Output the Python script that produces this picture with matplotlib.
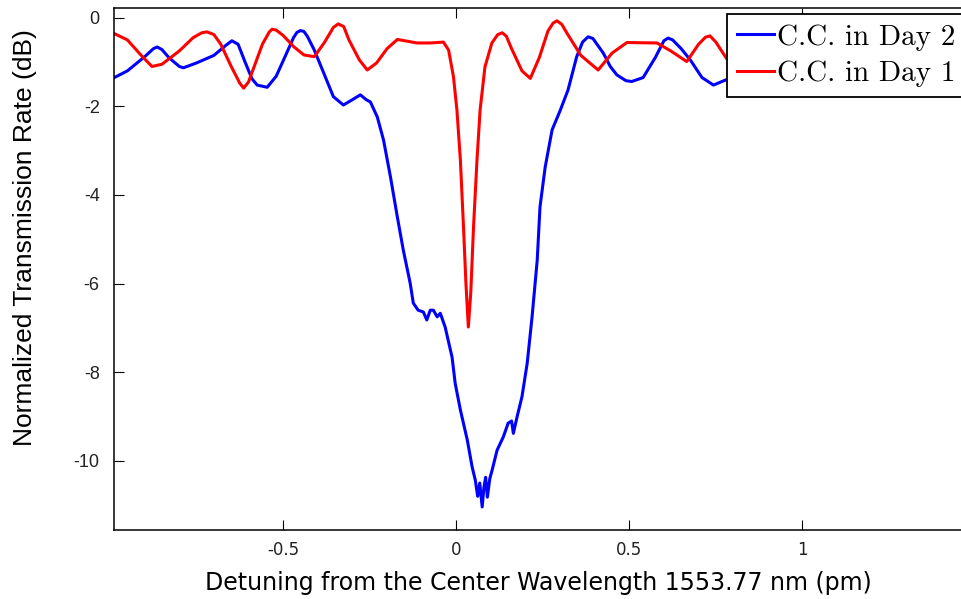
import matplotlib
matplotlib.use('Agg')
import matplotlib.pyplot as plt

plt.rcParams['axes.unicode_minus'] = False

# detuning (pm) and normalized transmission (dB), second day
day2_x = [-0.99, -0.95, -0.90, -0.875, -0.864, -0.85, -0.83, -0.80, -0.788, -0.75,
          -0.70, -0.665, -0.648, -0.63, -0.61, -0.59, -0.575, -0.546, -0.52, -0.49,
          -0.47, -0.46, -0.45, -0.44, -0.43, -0.41, -0.38, -0.355, -0.326, -0.30,
          -0.277, -0.26, -0.248, -0.228, -0.21, -0.19, -0.17, -0.153, -0.133, -0.124,
          -0.11, -0.095, -0.085, -0.075, -0.066, -0.055, -0.046, -0.032, -0.012, -0.003,
          0.012, 0.032, 0.046, 0.055, 0.062, 0.068, 0.075, 0.08, 0.085, 0.09,
          0.097, 0.104, 0.118, 0.136, 0.15, 0.16, 0.165, 0.176, 0.19, 0.205,
          0.219, 0.234, 0.242, 0.257, 0.277, 0.30, 0.323, 0.348, 0.365, 0.381,
          0.395, 0.425, 0.445, 0.464, 0.49, 0.507, 0.54, 0.575, 0.60, 0.612,
          0.625, 0.65, 0.676, 0.71, 0.743, 0.78]
day2_db = [-1.36, -1.2, -0.88, -0.7, -0.66, -0.72, -0.9, -1.1, -1.13, -1.02,
           -0.85, -0.62, -0.52, -0.6, -1.0, -1.38, -1.52, -1.57, -1.32, -0.8,
           -0.45, -0.33, -0.29, -0.31, -0.42, -0.73, -1.3, -1.78, -1.97, -1.85,
           -1.74, -1.85, -1.9, -2.24, -2.76, -3.59, -4.5, -5.24, -5.99, -6.44,
           -6.6, -6.64, -6.82, -6.6, -6.6, -6.75, -6.67, -6.98, -7.66, -8.25,
           -8.85, -9.53, -10.14, -10.43, -10.8, -10.5, -11.04, -10.6, -10.37, -10.82,
           -10.4, -10.2, -9.76, -9.46, -9.15, -9.1, -9.38, -9.0, -8.55, -7.8,
           -6.76, -5.47, -4.27, -3.37, -2.53, -2.1, -1.63, -0.88, -0.55, -0.43,
           -0.47, -0.8, -1.1, -1.29, -1.42, -1.44, -1.35, -0.9, -0.52, -0.46,
           -0.5, -0.7, -0.95, -1.35, -1.52, -1.4]

# first day
day1_x = [-0.99, -0.95, -0.91, -0.879, -0.85, -0.80, -0.76, -0.735, -0.72, -0.70,
          -0.68, -0.65, -0.625, -0.614, -0.60, -0.56, -0.54, -0.532, -0.52, -0.50,
          -0.47, -0.44, -0.41, -0.38, -0.355, -0.341, -0.325, -0.31, -0.28, -0.257,
          -0.23, -0.20, -0.17, -0.113, -0.075, -0.037, -0.022, -0.008, 0.002, 0.012,
          0.021, 0.028, 0.035, 0.042, 0.05, 0.06, 0.069, 0.083, 0.103, 0.12,
          0.133, 0.145, 0.16, 0.19, 0.214, 0.24, 0.265, 0.28, 0.291, 0.305,
          0.32, 0.36, 0.41, 0.45, 0.493, 0.58, 0.62, 0.666, 0.70, 0.72,
          0.733, 0.75, 0.78]
day1_db = [-0.35, -0.5, -0.85, -1.1, -1.05, -0.75, -0.45, -0.34, -0.32, -0.38,
           -0.6, -1.1, -1.48, -1.59, -1.45, -0.6, -0.32, -0.26, -0.28, -0.4,
           -0.65, -0.84, -0.88, -0.55, -0.22, -0.14, -0.2, -0.5, -0.95, -1.18,
           -1.02, -0.7, -0.49, -0.57, -0.57, -0.55, -0.73, -1.33, -2.08, -3.21,
           -4.72, -5.99, -6.98, -6.21, -4.72, -3.21, -2.08, -1.11, -0.57, -0.38,
           -0.34, -0.42, -0.7, -1.2, -1.37, -0.9, -0.3, -0.12, -0.07, -0.15,
           -0.35, -0.85, -1.18, -0.8, -0.56, -0.57, -0.75, -0.99, -0.6, -0.44,
           -0.41, -0.55, -0.91]

x_ticks = [-0.5, 0, 0.5, 1]
y_ticks = [0, -2, -4, -6, -8, -10]

fig = plt.figure(figsize=(9.62, 5.99), dpi=100)
ax = fig.add_axes([0.118, 0.1152, 0.896, 0.8715])

ax.plot(day2_x, day2_db, color='#0000ff', linewidth=2.2, label='C.C. in Day 2')
ax.plot(day1_x, day1_db, color='#ff0000', linewidth=2.2, label='C.C. in Day 1')

ax.set_xlim(-0.99, 1.5)
ax.set_ylim(-11.56, 0.22)
ax.set_xticks(x_ticks)
ax.set_xticklabels([f'{t:g}' for t in x_ticks])
ax.set_yticks(y_ticks)
ax.set_yticklabels([f'{t:g}' for t in y_ticks])
ax.tick_params(direction='in', top=True, right=True, length=7, width=0.8)
ax.tick_params(axis='x', labelsize=12, pad=8)
ax.tick_params(axis='y', labelsize=13, pad=10)
for lbl in ax.get_yticklabels():
    lbl.set_family(['Liberation Sans', 'DejaVu Sans'])
for lbl in ax.get_xticklabels() + ax.get_yticklabels():
    lbl.set_color('#222222')
for sp in ax.spines.values():
    sp.set_linewidth(1.1)

ax.set_xlabel('Detuning from the Center Wavelength 1553.77 nm (pm)',
              fontsize=17, family='DejaVu Sans')
ax.xaxis.set_label_coords(0.4925, -0.0785)
ax.set_ylabel('Normalized Transmission Rate (dB)', fontsize=19,
              family=['Liberation Sans', 'DejaVu Sans'])
ax.yaxis.set_label_coords(-0.0887, 0.56)

leg = ax.legend(loc='upper left', bbox_to_anchor=(727 / 962, 1 - 14 / 599),
                bbox_transform=fig.transFigure,
                prop={'family': 'cmr10', 'size': 21},
                frameon=True, fancybox=False, framealpha=1, edgecolor='black',
                handlelength=1.25, handletextpad=0.1, borderpad=0.35,
                labelspacing=0.33, borderaxespad=0)
leg.get_frame().set_linewidth(1.3)

fig.savefig('out.png', dpi=100)
